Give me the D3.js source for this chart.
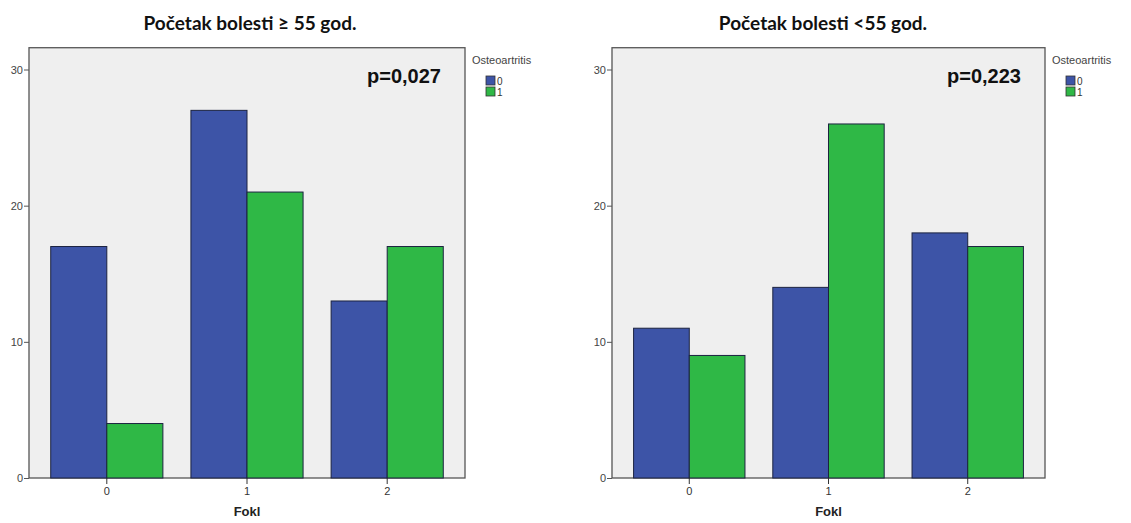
<!DOCTYPE html>
<html>
<head>
<meta charset="utf-8">
<script src="https://cdn.jsdelivr.net/npm/d3@7"></script>
<style>
  body { margin: 0; background: #ffffff; }
  svg { display: block; }
</style>
</head>
<body>
<svg id="chart" width="1131" height="523"></svg>
<script>
const categories = ["0", "1", "2"];
const seriesNames = ["0", "1"];
const leftTitle = "Početak bolesti ≥ 55 god.";
const rightTitle = "Početak bolesti <55 god.";
const leftValues0 = [17, 27, 13];
const leftValues1 = [4, 21, 17];
const rightValues0 = [11, 14, 18];
const rightValues1 = [9, 26, 17];
const leftP = "p=0,027";
const rightP = "p=0,223";
const yTicks = [0, 10, 20, 30];
const xTitle = "Fokl";
const legendTitle = "Osteoartritis";
const colors = ["#3d54a7", "#2fb846"];

const svg = d3.select("#chart");

function panel(cfg) {
  const g = svg.append("g");
  const x0 = d3.scaleBand().domain(categories).range([cfg.left, cfg.right])
    .paddingInner(0.2).paddingOuter(0.155);
  const x1 = d3.scaleBand().domain(seriesNames).range([0, x0.bandwidth()]);
  const y = d3.scaleLinear().domain([0, 30]).range([478, 69.5]);
  const top = y(31.6);

  g.append("rect").attr("x", cfg.left).attr("y", top)
    .attr("width", cfg.right - cfg.left).attr("height", y(0) - top)
    .attr("fill", "#efefef").attr("stroke", "#555").attr("stroke-width", 1.3);

  const data = categories.map((c, i) => ({ c, v: [cfg.v0[i], cfg.v1[i]] }));
  const grp = g.selectAll("g.cat").data(data).join("g")
    .attr("transform", d => `translate(${x0(d.c)},0)`);
  grp.selectAll("rect").data(d => d.v.map((v, j) => ({ s: seriesNames[j], v, j })))
    .join("rect")
    .attr("x", d => x1(d.s)).attr("width", x1.bandwidth())
    .attr("y", d => y(d.v)).attr("height", d => y(0) - y(d.v))
    .attr("fill", d => colors[d.j]).attr("stroke", "#1c2340").attr("stroke-width", 1);

  // y axis
  const ya = g.append("g").attr("transform", `translate(${cfg.left},0)`)
    .call(d3.axisLeft(y).tickValues(yTicks).tickSize(5).tickPadding(1).tickFormat(d3.format("d")));
  ya.select(".domain").remove();
  ya.selectAll("line").attr("stroke", "#555");
  ya.selectAll("text").attr("fill", "#444").attr("font-family", "Liberation Sans, Arial, sans-serif").attr("font-size", 11);

  // x axis
  const xa = g.append("g").attr("transform", `translate(0,${y(0)})`)
    .call(d3.axisBottom(x0).tickSize(6).tickPadding(3));
  xa.select(".domain").remove();
  xa.selectAll(".tick").attr("transform", d => `translate(${x0(d) + x0.bandwidth() / 2},0)`);
  xa.selectAll("line").attr("stroke", "#333");
  xa.selectAll("text").attr("fill", "#333").attr("font-family", "Liberation Sans, Arial, sans-serif").attr("font-size", 11);

  g.append("text").attr("x", (cfg.left + cfg.right) / 2).attr("y", 516)
    .attr("text-anchor", "middle").attr("font-family", "Liberation Sans, Arial, sans-serif")
    .attr("font-weight", "bold").attr("font-size", 13).attr("fill", "#222").text(xTitle);

  g.append("text").attr("x", cfg.titleX).attr("y", 30).attr("text-anchor", "middle")
    .attr("font-family", "Lato, 'Open Sans', sans-serif").attr("font-weight", "bold")
    .attr("font-size", 19).attr("fill", "#111").text(cfg.title);

  g.append("text").attr("x", cfg.right - 24).attr("y", 83).attr("text-anchor", "end")
    .attr("font-family", "Liberation Sans, Arial, sans-serif").attr("font-weight", "bold")
    .attr("font-size", 20).attr("fill", "#111").text(cfg.p);

  // legend
  const lg = g.append("g").attr("transform", `translate(${cfg.right + 7},0)`);
  lg.append("text").attr("x", 0).attr("y", 64).attr("font-family", "Liberation Sans, Arial, sans-serif")
    .attr("font-size", 11).attr("fill", "#444").text(legendTitle);
  seriesNames.forEach((s, i) => {
    lg.append("rect").attr("x", 14).attr("y", 76 + i * 11).attr("width", 9).attr("height", 9)
      .attr("fill", colors[i]).attr("stroke", "#333").attr("stroke-width", 0.8);
    lg.append("text").attr("x", 25).attr("y", 84.5 + i * 11).attr("font-family", "Liberation Sans, Arial, sans-serif")
      .attr("font-size", 10).attr("fill", "#333").text(s);
  });
}

panel({ left: 29, right: 465, v0: leftValues0, v1: leftValues1, title: leftTitle, titleX: 250, p: leftP });
panel({ left: 612, right: 1045, v0: rightValues0, v1: rightValues1, title: rightTitle, titleX: 823, p: rightP });
</script>
</body>
</html>
